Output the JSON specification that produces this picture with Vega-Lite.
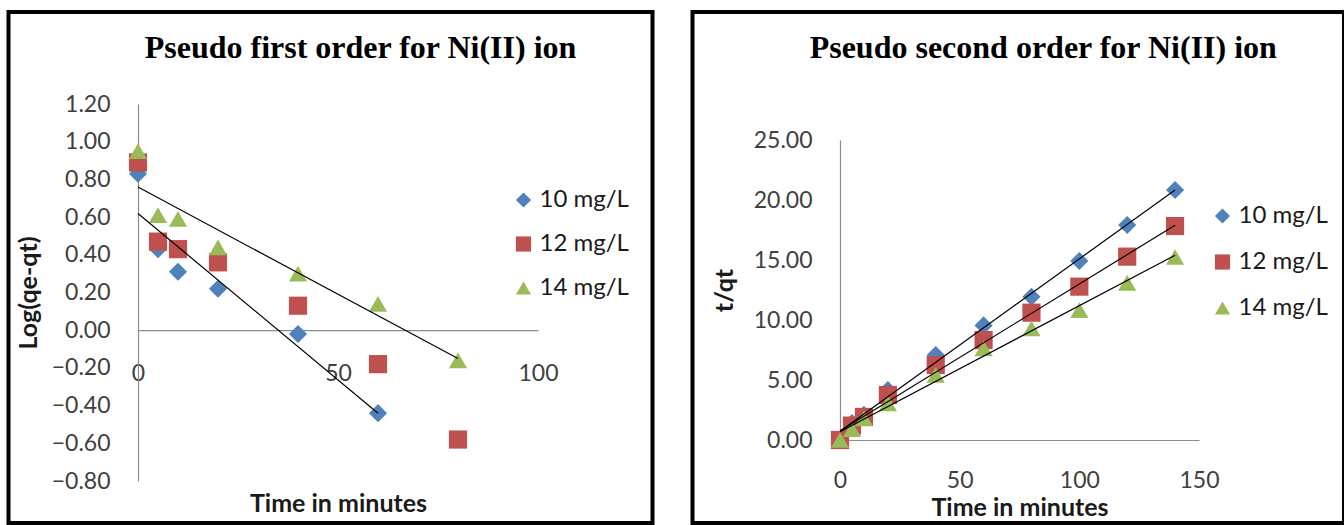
{
  "$schema": "https://vega.github.io/schema/vega-lite/v6.json",
  "background": "white",
  "padding": {"left": 6.5, "top": 10, "right": 2, "bottom": 0},
  "config": {
    "view": {"stroke": "#000000", "strokeWidth": 4},
    "concat": {"spacing": 36},
    "axis": {
      "grid": false,
      "ticks": false,
      "tickSize": 0,
      "labelFlush": false,
      "domainColor": "#8c8c8c",
      "domainWidth": 1.2,
      "labelFont": "Lato",
      "labelFontSize": 23,
      "labelColor": "#404040",
      "titleFont": "Lato",
      "titleFontSize": 25,
      "titleFontWeight": "bold",
      "titleColor": "#1a1a1a"
    },
    "legend": {
      "labelFont": "Lato",
      "labelFontSize": 24,
      "labelColor": "#1a1a1a",
      "symbolSize": 230,
      "symbolStrokeWidth": 0,
      "padding": 0,
      "labelOffset": 4
    },
    "title": {
      "font": "Liberation Serif",
      "fontSize": 32,
      "fontWeight": "bold",
      "color": "#000000"
    }
  },
  "datasets": {
    "first": [
      {"t": 0, "v": 0.83, "series": "10 mg/L"},
      {"t": 5, "v": 0.43, "series": "10 mg/L"},
      {"t": 10, "v": 0.31, "series": "10 mg/L"},
      {"t": 20, "v": 0.22, "series": "10 mg/L"},
      {"t": 40, "v": -0.02, "series": "10 mg/L"},
      {"t": 60, "v": -0.44, "series": "10 mg/L"},
      {"t": 0, "v": 0.89, "series": "12 mg/L"},
      {"t": 5, "v": 0.47, "series": "12 mg/L"},
      {"t": 10, "v": 0.43, "series": "12 mg/L"},
      {"t": 20, "v": 0.36, "series": "12 mg/L"},
      {"t": 40, "v": 0.13, "series": "12 mg/L"},
      {"t": 60, "v": -0.18, "series": "12 mg/L"},
      {"t": 80, "v": -0.58, "series": "12 mg/L"},
      {"t": 0, "v": 0.95, "series": "14 mg/L"},
      {"t": 5, "v": 0.61, "series": "14 mg/L"},
      {"t": 10, "v": 0.59, "series": "14 mg/L"},
      {"t": 20, "v": 0.44, "series": "14 mg/L"},
      {"t": 40, "v": 0.30, "series": "14 mg/L"},
      {"t": 60, "v": 0.14, "series": "14 mg/L"},
      {"t": 80, "v": -0.16, "series": "14 mg/L"}
    ],
    "second": [
      {"t": 0, "v": 0.0, "series": "10 mg/L"},
      {"t": 5, "v": 1.4, "series": "10 mg/L"},
      {"t": 10, "v": 2.1, "series": "10 mg/L"},
      {"t": 20, "v": 4.17, "series": "10 mg/L"},
      {"t": 40, "v": 7.08, "series": "10 mg/L"},
      {"t": 60, "v": 9.55, "series": "10 mg/L"},
      {"t": 80, "v": 11.94, "series": "10 mg/L"},
      {"t": 100, "v": 14.92, "series": "10 mg/L"},
      {"t": 120, "v": 17.92, "series": "10 mg/L"},
      {"t": 140, "v": 20.83, "series": "10 mg/L"},
      {"t": 0, "v": 0.0, "series": "12 mg/L"},
      {"t": 5, "v": 1.2, "series": "12 mg/L"},
      {"t": 10, "v": 1.92, "series": "12 mg/L"},
      {"t": 20, "v": 3.75, "series": "12 mg/L"},
      {"t": 40, "v": 6.25, "series": "12 mg/L"},
      {"t": 60, "v": 8.33, "series": "12 mg/L"},
      {"t": 80, "v": 10.61, "series": "12 mg/L"},
      {"t": 100, "v": 12.78, "series": "12 mg/L"},
      {"t": 120, "v": 15.28, "series": "12 mg/L"},
      {"t": 140, "v": 17.83, "series": "12 mg/L"},
      {"t": 0, "v": 0.0, "series": "14 mg/L"},
      {"t": 5, "v": 0.9, "series": "14 mg/L"},
      {"t": 10, "v": 1.8, "series": "14 mg/L"},
      {"t": 20, "v": 3.06, "series": "14 mg/L"},
      {"t": 40, "v": 5.42, "series": "14 mg/L"},
      {"t": 60, "v": 7.64, "series": "14 mg/L"},
      {"t": 80, "v": 9.3, "series": "14 mg/L"},
      {"t": 100, "v": 10.83, "series": "14 mg/L"},
      {"t": 120, "v": 13.1, "series": "14 mg/L"},
      {"t": 140, "v": 15.25, "series": "14 mg/L"}
    ]
  },
  "hconcat": [
    {
      "width": 644,
      "height": 511,
      "title": {"text": "Pseudo first order for Ni(II) ion", "offset": -78, "baseline": "alphabetic", "dx": 30},
      "data": {"name": "first"},
      "layer": [
        {
          "mark": {"type": "point", "filled": true, "size": 330, "opacity": 1, "strokeWidth": 0},
          "encoding": {
            "x": {"field": "t", "type": "quantitative",
                  "scale": {"domain": [0, 100], "range": [129.5, 529.5], "nice": false, "zero": false},
                  "axis": {"orient": "bottom", "offset": -192.8, "values": [0, 50, 100], "labelPadding": 32, "title": "Time in minutes", "titlePadding": 106}},
            "y": {"field": "v", "type": "quantitative",
                  "scale": {"domain": [-0.8, 1.2], "range": [469, 92], "nice": false, "zero": false},
                  "axis": {"orient": "left", "offset": -129.5, "values": [-0.8, -0.6, -0.4, -0.2, 0, 0.2, 0.4, 0.6, 0.8, 1.0, 1.2], "format": ".2f", "labelPadding": 28, "title": "Log(qe-qt)", "titlePadding": 10}},
            "color": {"field": "series", "type": "nominal",
                      "scale": {"domain": ["10 mg/L", "12 mg/L", "14 mg/L"], "range": ["#4F81BD", "#C0504D", "#9BBB59"]},
                      "legend": {"title": null, "orient": "none", "legendX": 503, "legendY": 176, "rowPadding": 20}},
            "shape": {"field": "series", "type": "nominal",
                      "scale": {"domain": ["10 mg/L", "12 mg/L", "14 mg/L"], "range": ["diamond", "square", "triangle-up"]},
                      "legend": {"title": null, "orient": "none", "legendX": 503, "legendY": 176, "rowPadding": 20}}
          }
        },
        {
          "transform": [
            {"filter": {"field": "series", "oneOf": ["10 mg/L", "14 mg/L"]}},
            {"regression": "v", "on": "t", "groupby": ["series"]}
          ],
          "mark": {"type": "line", "color": "#000000", "strokeWidth": 1.2},
          "encoding": {
            "x": {"field": "t", "type": "quantitative"},
            "y": {"field": "v", "type": "quantitative"},
            "detail": {"field": "series", "type": "nominal"}
          }
        }
      ]
    },
    {
      "width": 651.5,
      "height": 511,
      "title": {"text": "Pseudo second order for Ni(II) ion", "offset": -78, "baseline": "alphabetic", "dx": 25},
      "data": {"name": "second"},
      "layer": [
        {
          "mark": {"type": "point", "filled": true, "size": 330, "opacity": 1, "strokeWidth": 0},
          "encoding": {
            "x": {"field": "t", "type": "quantitative",
                  "scale": {"domain": [0, 150], "range": [147.5, 506.5], "nice": false, "zero": false},
                  "axis": {"orient": "bottom", "offset": -83, "values": [0, 50, 100, 150], "labelPadding": 29, "title": "Time in minutes", "titlePadding": 3}},
            "y": {"field": "v", "type": "quantitative",
                  "scale": {"domain": [0, 25], "range": [428, 128], "nice": false, "zero": false},
                  "axis": {"orient": "left", "offset": -147.5, "values": [0, 5, 10, 15, 20, 25], "format": ".2f", "labelPadding": 28, "title": "t/qt", "titlePadding": 16}},
            "color": {"field": "series", "type": "nominal",
                      "scale": {"domain": ["10 mg/L", "12 mg/L", "14 mg/L"], "range": ["#4F81BD", "#C0504D", "#9BBB59"]},
                      "legend": {"title": null, "orient": "none", "legendX": 518, "legendY": 192, "rowPadding": 22}},
            "shape": {"field": "series", "type": "nominal",
                      "scale": {"domain": ["10 mg/L", "12 mg/L", "14 mg/L"], "range": ["diamond", "square", "triangle-up"]},
                      "legend": {"title": null, "orient": "none", "legendX": 518, "legendY": 192, "rowPadding": 22}}
          }
        },
        {
          "transform": [
            {"regression": "v", "on": "t", "groupby": ["series"]}
          ],
          "mark": {"type": "line", "color": "#000000", "strokeWidth": 1.2},
          "encoding": {
            "x": {"field": "t", "type": "quantitative"},
            "y": {"field": "v", "type": "quantitative"},
            "detail": {"field": "series", "type": "nominal"}
          }
        }
      ]
    }
  ],
  "resolve": {
    "scale": {"color": "independent", "shape": "independent", "x": "independent", "y": "independent"},
    "legend": {"color": "independent", "shape": "independent"}
  }
}
